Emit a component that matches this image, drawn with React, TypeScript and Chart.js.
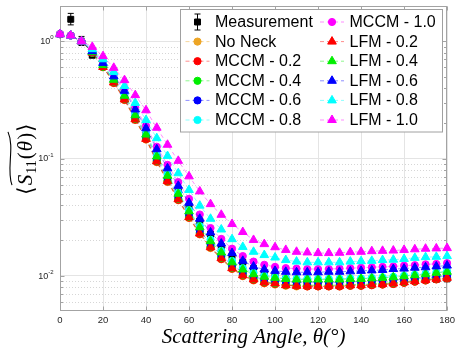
import React, { useEffect, useRef } from 'react';
import { Chart, registerables } from 'chart.js';

Chart.register(...registerables);

// ---------- data ----------
const angles = [0, 5, 10, 15, 20, 25, 30, 35, 40, 45, 50, 55, 60, 65, 70, 75, 80, 85, 90, 95, 100, 105, 110, 115, 120, 125, 130, 135, 140, 145, 150, 155, 160, 165, 170, 175, 180];

const noNeck = [1.15, 1.12, 1.0, 0.80, 0.60, 0.44, 0.315, 0.213, 0.145, 0.093, 0.063, 0.044, 0.031, 0.0225, 0.0172, 0.0138, 0.0114, 0.0099, 0.0091, 0.0086, 0.0084, 0.0082, 0.0081, 0.0081, 0.0081, 0.0081, 0.0081, 0.0082, 0.0082, 0.0083, 0.0084, 0.0085, 0.0087, 0.0089, 0.0091, 0.0093, 0.0095];
const mccm02 = [1.15, 1.12, 1.0, 0.80, 0.602, 0.442, 0.317, 0.214, 0.146, 0.0938, 0.0636, 0.0444, 0.0313, 0.0227, 0.0174, 0.0139, 0.0115, 0.0100, 0.0092, 0.0087, 0.0085, 0.0083, 0.0082, 0.0081, 0.0081, 0.0081, 0.0081, 0.0082, 0.0082, 0.0083, 0.0084, 0.0085, 0.0087, 0.0089, 0.0091, 0.0093, 0.0095];
const mccm04 = [1.15, 1.12, 1.0, 0.80, 0.606, 0.449, 0.323, 0.218, 0.149, 0.0958, 0.0649, 0.0453, 0.0319, 0.0232, 0.0177, 0.0142, 0.0117, 0.0102, 0.0094, 0.0089, 0.0086, 0.0084, 0.0083, 0.0083, 0.0083, 0.0083, 0.0083, 0.0084, 0.0084, 0.0085, 0.0086, 0.0087, 0.0089, 0.0091, 0.0093, 0.0095, 0.0097];
const mccm06 = [1.15, 1.12, 1.0, 0.808, 0.618, 0.458, 0.331, 0.226, 0.155, 0.100, 0.068, 0.0475, 0.0335, 0.0243, 0.0186, 0.0149, 0.0123, 0.0107, 0.0098, 0.0093, 0.0091, 0.0089, 0.0088, 0.0088, 0.0088, 0.0088, 0.0088, 0.0089, 0.0089, 0.0090, 0.0091, 0.0092, 0.0093, 0.0095, 0.0096, 0.0098, 0.0100];
const mccm08 = [1.15, 1.12, 1.0, 0.816, 0.636, 0.480, 0.353, 0.241, 0.165, 0.107, 0.0731, 0.0513, 0.0363, 0.0265, 0.0203, 0.0163, 0.0134, 0.0116, 0.0106, 0.0100, 0.0097, 0.0095, 0.0094, 0.0094, 0.0094, 0.0094, 0.0094, 0.0095, 0.0095, 0.0096, 0.0097, 0.0098, 0.0100, 0.0102, 0.0104, 0.0107, 0.0109];
const mccm10 = [1.15, 1.12, 1.0, 0.84, 0.672, 0.519, 0.391, 0.273, 0.190, 0.126, 0.0882, 0.0629, 0.0453, 0.0333, 0.0255, 0.0206, 0.0170, 0.0147, 0.0132, 0.0124, 0.0119, 0.0116, 0.0115, 0.0114, 0.0114, 0.0114, 0.0115, 0.0116, 0.0117, 0.0118, 0.0119, 0.0120, 0.0122, 0.0123, 0.0125, 0.0126, 0.0128];
const lfm02 = [1.15, 1.12, 1.0, 0.80, 0.604, 0.445, 0.319, 0.216, 0.147, 0.0947, 0.0642, 0.0449, 0.0316, 0.0229, 0.0175, 0.0141, 0.0116, 0.0101, 0.0093, 0.0088, 0.0086, 0.0083, 0.0082, 0.0082, 0.0082, 0.0082, 0.0082, 0.0083, 0.0083, 0.0084, 0.0085, 0.0086, 0.0088, 0.0090, 0.0092, 0.0094, 0.0096];
const lfm04 = [1.15, 1.12, 1.0, 0.81, 0.627, 0.470, 0.343, 0.234, 0.160, 0.104, 0.0712, 0.0500, 0.0354, 0.0259, 0.0197, 0.0158, 0.0130, 0.0113, 0.0103, 0.0098, 0.0096, 0.0094, 0.0093, 0.0093, 0.0093, 0.0093, 0.0093, 0.0094, 0.0094, 0.0095, 0.0096, 0.0097, 0.0099, 0.0101, 0.0103, 0.0106, 0.0108];
const lfm06 = [1.15, 1.12, 1.0, 0.824, 0.654, 0.502, 0.378, 0.262, 0.181, 0.120, 0.0825, 0.0585, 0.0419, 0.0306, 0.0234, 0.0188, 0.0156, 0.0134, 0.0120, 0.0113, 0.0110, 0.0108, 0.0107, 0.0107, 0.0107, 0.0108, 0.0108, 0.0109, 0.0110, 0.0111, 0.0112, 0.0114, 0.0115, 0.0117, 0.0118, 0.0120, 0.0122];
const lfm08 = [1.15, 1.12, 1.0, 0.856, 0.702, 0.546, 0.416, 0.298, 0.213, 0.149, 0.105, 0.0748, 0.0539, 0.0396, 0.0306, 0.0248, 0.0205, 0.0176, 0.0160, 0.0150, 0.0143, 0.0136, 0.0132, 0.0130, 0.0130, 0.0130, 0.0130, 0.0132, 0.0133, 0.0134, 0.0136, 0.0137, 0.0139, 0.0142, 0.0144, 0.0145, 0.0147];
const lfm10 = [1.15, 1.12, 1.0, 0.896, 0.747, 0.594, 0.466, 0.347, 0.258, 0.183, 0.131, 0.0955, 0.0704, 0.0524, 0.0408, 0.0331, 0.0276, 0.0236, 0.0202, 0.0186, 0.0175, 0.0166, 0.0160, 0.0158, 0.0156, 0.0156, 0.0157, 0.0159, 0.0160, 0.0162, 0.0163, 0.0164, 0.0166, 0.0168, 0.0170, 0.0171, 0.0172];

const measAngles = [5, 10, 15, 20, 25, 30, 35, 40, 45, 50, 55, 60, 65, 70, 75, 80, 85, 90, 95, 100, 105, 110, 115, 120, 125, 130, 135, 140, 145, 150, 155, 160, 165, 170, 175, 180];
const measurement = [1.54, 1.0, 0.76, 0.607, 0.46, 0.335, 0.232, 0.158, 0.104, 0.072, 0.052, 0.0385, 0.0294, 0.0225, 0.0178, 0.0148, 0.0130, 0.0115, 0.0106, 0.0098, 0.0094, 0.0091, 0.0089, 0.0088, 0.0087, 0.0087, 0.0087, 0.0087, 0.0088, 0.0088, 0.0089, 0.0090, 0.0091, 0.0092, 0.0093, 0.0094];
const errAngles = [5, 10, 15];
const errLow = [1.38, 0.92, 0.73];
const errHigh = [1.73, 1.10, 0.80];

const xTicks = [0, 20, 40, 60, 80, 100, 120, 140, 160, 180];
const yMajorTicks = [0.01, 0.1, 1];
const yTickExponents = ['-2', '-1', '0'];
const yMinorTicks = [0.005, 0.006, 0.007, 0.008, 0.009, 0.02, 0.03, 0.04, 0.05, 0.06, 0.07, 0.08, 0.09, 0.2, 0.3, 0.4, 0.5, 0.6, 0.7, 0.8, 0.9, 2];

const seriesLabels = ['No Neck', 'MCCM - 0.2', 'MCCM - 0.4', 'MCCM - 0.6', 'MCCM - 0.8', 'MCCM - 1.0', 'LFM - 0.2', 'LFM - 0.4', 'LFM - 0.6', 'LFM - 0.8', 'LFM - 1.0'];
const seriesValues = [noNeck, mccm02, mccm04, mccm06, mccm08, mccm10, lfm02, lfm04, lfm06, lfm08, lfm10];
const seriesColors = ['#EDA525', '#FF0000', '#00EE00', '#0000FF', '#00FFFF', '#FF00FF', '#FF0000', '#00EE00', '#0000FF', '#00FFFF', '#FF00FF'];
const seriesMarkers = ['circle', 'circle', 'circle', 'circle', 'circle', 'circle', 'triangle', 'triangle', 'triangle', 'triangle', 'triangle'];

const SANS = '"Liberation Sans", Arial, Helvetica, sans-serif';
const SERIF = '"Liberation Serif", "Times New Roman", serif';

function hexToRgba(hex: string, a: number) {
  const n = parseInt(hex.slice(1), 16);
  return `rgba(${(n >> 16) & 255},${(n >> 8) & 255},${n & 255},${a})`;
}

function markerRadius(style: string) {
  if (style === 'triangle') return 5;
  if (style === 'rect') return 4.2;
  return 3.6;
}

function drawMarker(ctx: CanvasRenderingContext2D, style: string, x: number, y: number, r: number, color: string) {
  ctx.beginPath();
  if (style === 'circle') {
    ctx.arc(x, y, r, 0, Math.PI * 2);
  } else if (style === 'triangle') {
    for (let k = 0; k < 3; k++) {
      const a = (k * 2 * Math.PI) / 3;
      const px = x + Math.sin(a) * r;
      const py = y - Math.cos(a) * r;
      if (k === 0) ctx.moveTo(px, py); else ctx.lineTo(px, py);
    }
  } else {
    const s = r * Math.SQRT1_2;
    ctx.rect(x - s, y - s, 2 * s, 2 * s);
  }
  ctx.closePath();
  ctx.fillStyle = color;
  ctx.fill();
  ctx.strokeStyle = color;
  ctx.lineWidth = 1;
  ctx.setLineDash([]);
  ctx.stroke();
}

const axesPlugin = {
  id: 'matlabAxes',
  beforeDatasetsDraw(chart: any) {
    const { ctx, chartArea: a, scales } = chart;
    const x = scales.x;
    const y = scales.y;
    ctx.save();
    // minor dotted grid
    ctx.strokeStyle = '#d6d6d6';
    ctx.lineWidth = 1;
    ctx.setLineDash([1, 2]);
    yMinorTicks.forEach((v) => {
      const py = Math.round(y.getPixelForValue(v)) + 0.5;
      if (py < a.top || py > a.bottom) return;
      ctx.beginPath();
      ctx.moveTo(a.left, py);
      ctx.lineTo(a.right, py);
      ctx.stroke();
    });
    ctx.setLineDash([]);
    // box
    const L = Math.round(a.left) + 0.5, R = Math.round(a.right) - 0.5, T = Math.round(a.top) + 0.5, B = Math.round(a.bottom) - 0.5;
    ctx.strokeStyle = '#a3a3a3';
    ctx.lineWidth = 1;
    ctx.strokeRect(L, T, R - L, B - T);
    // tick marks (inward)
    ctx.beginPath();
    xTicks.forEach((v) => {
      const px = Math.round(x.getPixelForValue(v)) + 0.5;
      ctx.moveTo(px, B); ctx.lineTo(px, B - 4);
      ctx.moveTo(px, T); ctx.lineTo(px, T + 4);
    });
    yMajorTicks.forEach((v) => {
      const py = Math.round(y.getPixelForValue(v)) + 0.5;
      ctx.moveTo(L, py); ctx.lineTo(L + 4, py);
      ctx.moveTo(R, py); ctx.lineTo(R - 4, py);
    });
    yMinorTicks.forEach((v) => {
      const py = Math.round(y.getPixelForValue(v)) + 0.5;
      if (py < a.top || py > a.bottom) return;
      ctx.moveTo(L, py); ctx.lineTo(L + 2.5, py);
      ctx.moveTo(R, py); ctx.lineTo(R - 2.5, py);
    });
    ctx.stroke();
    // error bars of measurement
    ctx.strokeStyle = '#000';
    ctx.lineWidth = 1;
    errAngles.forEach((ang, i) => {
      const px = x.getPixelForValue(ang);
      const p1 = y.getPixelForValue(errLow[i]);
      const p2 = y.getPixelForValue(errHigh[i]);
      ctx.beginPath();
      ctx.moveTo(px, p1); ctx.lineTo(px, p2);
      ctx.moveTo(px - 3, p1); ctx.lineTo(px + 3, p1);
      ctx.moveTo(px - 3, p2); ctx.lineTo(px + 3, p2);
      ctx.stroke();
    });
    ctx.restore();
  },
  afterDraw(chart: any) {
    const { ctx, chartArea: a, scales } = chart;
    const y = scales.y;
    ctx.save();
    // y tick labels 10^n
    ctx.fillStyle = '#262626';
    ctx.textBaseline = 'middle';
    yMajorTicks.forEach((v, i) => {
      const py = y.getPixelForValue(v);
      ctx.font = `6px ${SANS}`;
      const ew = ctx.measureText(yTickExponents[i]).width;
      const endX = a.left - 6.5;
      ctx.textAlign = 'right';
      ctx.fillText(yTickExponents[i], endX, py - 3.5);
      ctx.font = `9px ${SANS}`;
      ctx.fillText('10', endX - ew, py + 0.5);
    });
    // y title <S11(theta)> with wide tilde
    const cy = (a.top + a.bottom) / 2;
    ctx.translate(32, cy);
    ctx.rotate(-Math.PI / 2);
    ctx.textBaseline = 'alphabetic';
    ctx.textAlign = 'left';
    ctx.fillStyle = '#000';
    const pieces = [
      { t: '\u27E8', f: `22px ${SERIF}`, dy: 1 },
      { t: 'S', f: `italic 21px ${SERIF}`, dy: 0 },
      { t: '11', f: `14px ${SERIF}`, dy: 4 },
      { t: '(', f: `21px ${SERIF}`, dy: 0 },
      { t: '\u03B8', f: `italic 21px ${SERIF}`, dy: 0 },
      { t: ')', f: `21px ${SERIF}`, dy: 0 },
      { t: '\u27E9', f: `22px ${SERIF}`, dy: 1 },
    ];
    const widths = pieces.map((p) => { ctx.font = p.f; return ctx.measureText(p.t).width + 1; });
    const total = widths.reduce((s, w) => s + w, 0);
    let cx = -total / 2;
    let tStart = 0, tEnd = 0;
    pieces.forEach((p, i) => {
      ctx.font = p.f;
      if (i === 1) tStart = cx;
      ctx.fillText(p.t, cx, p.dy);
      cx += widths[i];
      if (i === 5) tEnd = cx;
    });
    const w = tEnd - tStart;
    ctx.beginPath();
    ctx.moveTo(tStart, -20);
    ctx.bezierCurveTo(tStart + w * 0.3, -26, tStart + w * 0.7, -17, tEnd, -24);
    ctx.strokeStyle = '#000';
    ctx.lineWidth = 1.1;
    ctx.stroke();
    ctx.restore();

    // legend
    ctx.save();
    const bx = 180.5, by = 9.5, bw = 262, bh = 122.5;
    ctx.fillStyle = '#ffffff';
    ctx.fillRect(bx, by, bw, bh);
    ctx.strokeStyle = '#a0a0a0';
    ctx.lineWidth = 1;
    ctx.strokeRect(bx, by, bw, bh);
    chart.data.datasets.forEach((ds: any, i: number) => {
      const col = i < 6 ? 0 : 1;
      const row = i % 6;
      const mx = col === 0 ? 197.5 : 332;
      const my = 22 + row * 19.6;
      if (ds.showLine === false) {
        ctx.strokeStyle = '#000';
        ctx.lineWidth = 1;
        ctx.setLineDash([]);
        ctx.beginPath();
        ctx.moveTo(mx, my - 8); ctx.lineTo(mx, my + 8);
        ctx.moveTo(mx - 3, my - 8); ctx.lineTo(mx + 3, my - 8);
        ctx.moveTo(mx - 3, my + 8); ctx.lineTo(mx + 3, my + 8);
        ctx.stroke();
      } else {
        ctx.strokeStyle = ds.borderColor;
        ctx.lineWidth = 1;
        ctx.setLineDash([4, 3]);
        ctx.beginPath();
        ctx.moveTo(mx - 12, my);
        ctx.lineTo(mx + 12, my);
        ctx.stroke();
      }
      drawMarker(ctx, ds.pointStyle, mx, my, ds.pointRadius, ds.pointBackgroundColor);
      ctx.fillStyle = '#000';
      ctx.font = `16px ${SANS}`;
      ctx.textAlign = 'left';
      ctx.textBaseline = 'middle';
      ctx.fillText(ds.label, mx + 17.5, my + 0.5);
    });
    ctx.restore();
  },
};

export default function App() {
  const canvasRef = useRef<HTMLCanvasElement | null>(null);

  useEffect(() => {
    document.body.style.margin = '0';
    const canvas = canvasRef.current;
    if (!canvas) return;

    const datasets: any[] = [];
    datasets.push({
      label: 'Measurement',
      data: measAngles.map((a, i) => ({ x: a, y: measurement[i] })),
      showLine: false,
      borderColor: '#000000',
      backgroundColor: '#000000',
      pointStyle: 'rect',
      pointRadius: markerRadius('rect'),
      pointBackgroundColor: '#000000',
      pointBorderColor: '#000000',
      pointBorderWidth: 1,
      order: 12,
      clip: false,
    });
    seriesLabels.forEach((label, i) => {
      const c = seriesColors[i];
      datasets.push({
        label,
        data: angles.map((a, j) => ({ x: a, y: seriesValues[i][j] })),
        borderColor: hexToRgba(c, 0.45),
        backgroundColor: c,
        borderWidth: 1,
        borderDash: [4, 3],
        pointStyle: seriesMarkers[i],
        pointRadius: markerRadius(seriesMarkers[i]),
        pointBackgroundColor: c,
        pointBorderColor: c,
        pointBorderWidth: 1,
        tension: 0,
        order: 11 - i,
        clip: false,
      });
    });

    const chart = new Chart(canvas, {
      type: 'line',
      data: { datasets },
      options: {
        animation: false,
        responsive: false,
        events: [],
        layout: { padding: { left: 0, right: 8, top: 3, bottom: 0 } },
        plugins: {
          legend: { display: false },
          tooltip: { enabled: false },
        },
        scales: {
          x: {
            type: 'linear',
            min: 0,
            max: 180,
            afterBuildTicks: (s: any) => { s.ticks = xTicks.map((v) => ({ value: v })); },
            afterFit: (s: any) => { s.height = 46; },
            ticks: {
              font: { family: SANS, size: 9.5 },
              color: '#262626',
              padding: 4,
              maxRotation: 0,
              callback: (v: any) => String(v),
            },
            grid: { color: '#e4e4e4', drawTicks: false, lineWidth: 1 },
            border: { display: false },
            title: {
              display: true,
              text: 'Scattering Angle, \u03B8(\u00B0)',
              font: { family: SERIF, size: 21, style: 'italic' },
              color: '#000',
              padding: { top: 0, bottom: 7 },
            },
          },
          y: {
            type: 'logarithmic',
            min: 0.005,
            max: 2,
            afterBuildTicks: (s: any) => { s.ticks = yMajorTicks.map((v) => ({ value: v, major: true })); },
            afterFit: (s: any) => { s.width = 60; },
            ticks: { display: false },
            grid: { color: '#e4e4e4', drawTicks: false, lineWidth: 1 },
            border: { display: false },
          },
        },
      },
      plugins: [axesPlugin],
    } as any);

    return () => chart.destroy();
  }, []);

  return (
    <div style={{ width: 459, height: 357 }}>
      <canvas ref={canvasRef} width={459} height={357} style={{ display: 'block' }} />
    </div>
  );
}
